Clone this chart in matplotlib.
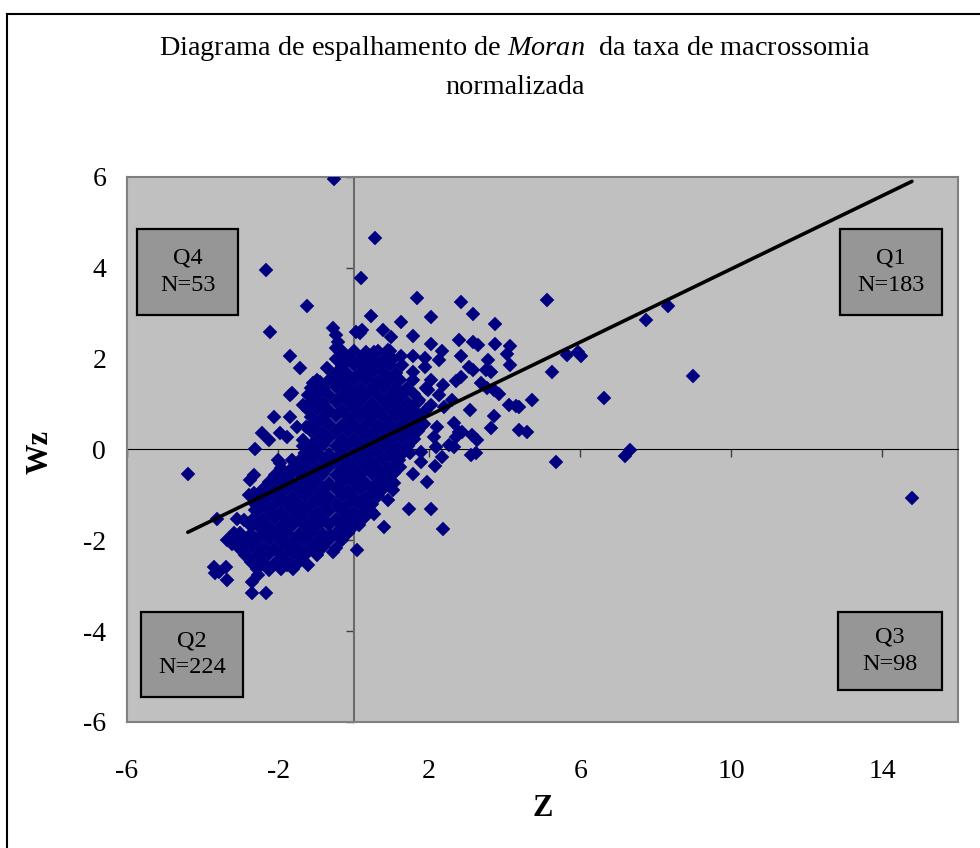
import matplotlib.pyplot as plt
from matplotlib.patches import Rectangle
from matplotlib.lines import Line2D

plt.rcParams['font.family'] = ['Liberation Serif', 'DejaVu Serif']
plt.rcParams['mathtext.fontset'] = 'custom'
plt.rcParams['mathtext.rm'] = 'Liberation Serif'
plt.rcParams['mathtext.it'] = 'Liberation Serif:italic'
plt.rcParams['axes.unicode_minus'] = False

# scattered points (z, Wz)
z_sparse = [
    -0.53, 0.57, -2.32, 0.20, -1.23, -2.22, 1.67, 2.83, 5.13, 0.47,
    2.04, 3.16, 1.26, 3.73, 0.22, 0.79, 0.18, 1.00, 1.57, 2.05,
    2.79, 3.16, 3.28, 3.74, 4.15, 4.05, 2.35, 2.84, 1.26, 1.58,
    1.90, 2.26, 1.27, 3.06, 3.17, 3.57, 4.15, 3.64, 3.50, 1.57,
    1.58, 1.89, 2.05, 2.36, 2.70, 2.83, 3.38, 3.53, 3.71, 3.84,
    4.72, 4.12, 4.29, 3.07, 3.71, 2.60, 2.26, 1.61, 1.74, 1.91,
    1.96, 1.21, 1.61, 2.04, 2.39, 2.66, 2.79, 3.14, 3.27, 2.22,
    2.13, 3.64, 4.37, 4.59, 2.88, 2.70, 2.53, 2.35, 3.10, 3.23,
    2.66, 2.18, 1.78, 1.78, 2.16, 1.57, 1.95, 0.57, 1.03, 1.08,
    0.91, 1.47, 2.04, 0.55, 0.35, 0.80, 2.37, 0.09, 5.26, 5.64,
    5.95, 6.03, 7.74, 8.32, 8.99, 6.62, 5.37, 7.19, 7.32, 14.78,
    -4.39, -2.89, 1.25, 1.21, 1.08, 1.16, 0.90, 0.20, 4.37, 0.55,
    0.90, -0.54, -0.46, -0.41, -0.46, -0.37, 0.07, -1.68, -1.42, -0.70,
    -0.19, -0.10, -1.64, -1.68, -1.07, -0.89, -0.41, -0.28, -1.33, -2.12,
    -1.68, -1.51, -2.43, -2.25, -2.60, -1.95, -1.77, -1.25, -1.07, -1.33,
    -1.99, -1.95, -2.65, -2.74, -1.95, -1.68, -1.42, -1.29, -2.65, -2.78,
    -2.39, -3.61, -3.09, -2.61, -3.35, -3.22, -2.96, -2.65, -3.09, -3.70,
    -3.57, -3.39, -3.35, -3.66, -2.69, -2.52, -2.69, -2.32, -1.77, -1.20,
    -0.54, -0.98, -0.81, -0.10, -0.46, -0.63, -2.17, -3.18,
]
wz_sparse = [
    5.95, 4.66, 3.96, 3.78, 3.17, 2.58, 3.34, 3.25, 3.30, 2.93,
    2.91, 2.98, 2.81, 2.76, 2.64, 2.63, 2.56, 2.47, 2.49, 2.32,
    2.41, 2.36, 2.31, 2.33, 2.28, 2.10, 2.16, 2.06, 2.06, 2.06,
    2.01, 1.97, 1.87, 1.81, 1.76, 1.98, 1.85, 1.70, 1.75, 1.70,
    1.53, 1.82, 1.53, 1.41, 1.51, 1.60, 1.47, 1.35, 1.31, 1.22,
    1.09, 0.97, 0.95, 0.87, 0.74, 1.10, 1.20, 1.22, 1.09, 1.36,
    1.31, 0.83, 0.83, 0.98, 0.94, 0.58, 0.39, 0.32, 0.22, 0.50,
    0.28, 0.47, 0.43, 0.39, 0.39, 0.28, 0.10, -0.16, -0.12, -0.08,
    0.06, 0.06, -0.05, -0.27, -0.36, -0.54, -0.71, -0.80, -0.89, -0.74,
    -1.11, -1.30, -1.30, -1.42, -1.26, -1.70, -1.74, -2.21, 1.71, 2.09,
    2.15, 2.06, 2.85, 3.15, 1.61, 1.13, -0.28, -0.14, -0.01, -1.06,
    -0.54, -1.55, -0.08, -0.23, -0.52, -0.38, -0.45, -0.67, 0.94, 2.15,
    2.19, 2.67, 2.52, 2.37, 2.23, 2.15, 2.59, 2.06, 1.79, 1.79,
    1.93, 1.97, 1.24, 1.20, 1.46, 1.49, 1.60, 1.71, 0.98, 0.72,
    0.72, 0.50, 0.36, 0.21, 0.00, 0.36, 0.28, 0.50, 0.58, 0.21,
    -0.23, -0.30, -0.56, -0.67, -0.49, -0.56, -0.45, -0.08, -0.96, -1.00,
    -1.15, -1.52, -1.52, -1.33, -1.99, -2.07, -2.21, -1.99, -2.03, -2.58,
    -2.69, -2.58, -2.87, -2.73, -2.91, -2.76, -3.17, -3.15, -2.54, -2.54,
    -2.25, -2.14, -2.07, -1.55, -1.85, -1.88, -1.77, -1.84,
]

# dense core of the cloud, read row by row
z_core = [
    -0.32, 0.00, 0.32, 0.64, 0.96,
    -0.48, -0.16, 0.16, 0.48, 0.80, 1.05,
    -0.32, 0.00, 0.32, 0.64, 0.96,
    -0.48, -0.16, 0.16, 0.48, 0.80, 1.12,
    -0.96, -0.64, -0.32, 0.00, 0.32, 0.64, 0.96, 1.22,
    -1.12, -0.80, -0.48, -0.16, 0.16, 0.48, 0.80, 1.12, 1.40,
    -1.20, -0.96, -0.64, -0.32, 0.00, 0.32, 0.64, 0.96, 1.28,
    -1.12, -0.80, -0.48, -0.16, 0.16, 0.48, 0.80, 1.12, 1.44, 1.70,
    -1.20, -0.96, -0.64, -0.32, 0.00, 0.32, 0.64, 0.96, 1.28, 1.60, 1.92,
    -1.12, -0.80, -0.48, -0.16, 0.16, 0.48, 0.80, 1.12, 1.44, 1.76,
    -0.96, -0.64, -0.32, 0.00, 0.32, 0.64, 0.96, 1.28, 1.60, 1.85,
    -1.12, -0.80, -0.48, -0.16, 0.16, 0.48, 0.80, 1.12, 1.44, 1.70,
    -0.96, -0.64, -0.32, 0.00, 0.32, 0.64, 0.96, 1.28, 1.60,
    -1.35, -1.12, -0.80, -0.48, -0.16, 0.16, 0.48, 0.80, 1.12, 1.44,
    -1.28, -0.96, -0.64, -0.32, 0.00, 0.32, 0.64, 0.96, 1.28, 1.50,
    -1.62, -1.44, -1.12, -0.80, -0.48, -0.16, 0.16, 0.48, 0.80, 1.12,
    -1.92, -1.60, -1.28, -0.96, -0.64, -0.32, 0.00, 0.32, 0.64, 0.96, 1.22,
    -2.08, -1.76, -1.44, -1.12, -0.80, -0.48, -0.16, 0.16, 0.48, 0.80, 1.05,
    -2.24, -1.92, -1.60, -1.28, -0.96, -0.64, -0.32, 0.00, 0.32, 0.64, 0.92,
    -2.40, -2.08, -1.76, -1.44, -1.12, -0.80, -0.48, -0.16, 0.16, 0.48, 0.78,
    -2.56, -2.24, -1.92, -1.60, -1.28, -0.96, -0.64, -0.32, 0.00, 0.32, 0.64,
    -2.62, -2.40, -2.08, -1.76, -1.44, -1.12, -0.80, -0.48, -0.16, 0.16, 0.48,
    -2.56, -2.24, -1.92, -1.60, -1.28, -0.96, -0.64, -0.32, 0.00, 0.32, 0.45,
    -2.66, -2.40, -2.08, -1.76, -1.44, -1.12, -0.80, -0.48, -0.16, 0.16, 0.28,
    -2.72, -2.56, -2.24, -1.92, -1.60, -1.28, -0.96, -0.64, -0.32, 0.00, 0.14,
    -3.00, -2.72, -2.40, -2.08, -1.76, -1.44, -1.12, -0.80, -0.48, -0.16,
    -3.20, -2.88, -2.56, -2.24, -1.92, -1.60, -1.28, -0.96, -0.64, -0.32,
    -3.04, -2.72, -2.40, -2.08, -1.76, -1.44, -1.12, -0.80, -0.48,
    -2.88, -2.56, -2.24, -1.92, -1.60, -1.28, -0.96,
    -2.72, -2.40, -2.08, -1.76, -1.44,
    -2.56, -2.24, -1.92, -1.60,
]
wz_core = [
    2.16, 2.17, 2.15, 2.16, 2.16,
    2.00, 2.01, 1.99, 2.00, 2.00, 2.00,
    1.84, 1.85, 1.83, 1.84, 1.85,
    1.68, 1.67, 1.69, 1.68, 1.68, 1.69,
    1.52, 1.53, 1.51, 1.52, 1.53, 1.51, 1.52, 1.53,
    1.36, 1.35, 1.37, 1.36, 1.35, 1.36, 1.37, 1.35, 1.36,
    1.20, 1.21, 1.19, 1.20, 1.21, 1.19, 1.20, 1.21, 1.19,
    1.04, 1.03, 1.05, 1.04, 1.05, 1.03, 1.04, 1.05, 1.03, 1.04,
    0.88, 0.89, 0.87, 0.88, 0.89, 0.87, 0.88, 0.89, 0.87, 0.88, 0.87,
    0.72, 0.71, 0.73, 0.72, 0.73, 0.71, 0.72, 0.73, 0.71, 0.72,
    0.56, 0.57, 0.55, 0.56, 0.57, 0.55, 0.56, 0.57, 0.55, 0.56,
    0.40, 0.39, 0.41, 0.40, 0.41, 0.39, 0.40, 0.41, 0.39, 0.40,
    0.24, 0.25, 0.23, 0.24, 0.25, 0.23, 0.24, 0.25, 0.23,
    0.08, 0.07, 0.09, 0.08, 0.09, 0.07, 0.08, 0.09, 0.07, 0.08,
    -0.08, -0.07, -0.09, -0.08, -0.07, -0.09, -0.08, -0.07, -0.09, -0.08,
    -0.24, -0.25, -0.23, -0.24, -0.23, -0.25, -0.24, -0.25, -0.23, -0.24,
    -0.40, -0.39, -0.41, -0.40, -0.39, -0.41, -0.40, -0.39, -0.41, -0.40, -0.39,
    -0.56, -0.57, -0.55, -0.56, -0.55, -0.57, -0.56, -0.57, -0.55, -0.56, -0.55,
    -0.72, -0.71, -0.73, -0.72, -0.71, -0.73, -0.72, -0.71, -0.73, -0.72, -0.71,
    -0.88, -0.89, -0.87, -0.88, -0.87, -0.89, -0.88, -0.89, -0.87, -0.88, -0.87,
    -1.04, -1.03, -1.05, -1.04, -1.03, -1.05, -1.04, -1.03, -1.05, -1.04, -1.03,
    -1.20, -1.21, -1.19, -1.20, -1.19, -1.21, -1.20, -1.21, -1.19, -1.20, -1.19,
    -1.36, -1.35, -1.37, -1.36, -1.35, -1.37, -1.36, -1.35, -1.37, -1.36, -1.35,
    -1.52, -1.53, -1.51, -1.52, -1.51, -1.53, -1.52, -1.53, -1.51, -1.52, -1.51,
    -1.68, -1.67, -1.69, -1.68, -1.67, -1.69, -1.68, -1.67, -1.69, -1.68, -1.67,
    -1.84, -1.85, -1.83, -1.84, -1.83, -1.85, -1.84, -1.85, -1.83, -1.84,
    -2.00, -2.01, -1.99, -2.00, -1.99, -2.01, -2.00, -2.01, -1.99, -2.00,
    -2.16, -2.15, -2.17, -2.16, -2.15, -2.17, -2.16, -2.15, -2.17,
    -2.32, -2.33, -2.31, -2.32, -2.31, -2.33, -2.32,
    -2.48, -2.47, -2.49, -2.48, -2.47,
    -2.64, -2.65, -2.63, -2.64,
]

# Moran regression line (slope = Moran's I)
moran_slope = 0.403
moran_intercept = -0.053

x_ticks = [-6, -2, 2, 6, 10, 14]
y_ticks = [-6, -4, -2, 0, 2, 4, 6]

quadrants = ['Q4\nN=53', 'Q1\nN=183', 'Q2\nN=224', 'Q3\nN=98']

fig = plt.figure(figsize=(9.8, 8.48), dpi=100)
pos = [127 / 980, 1 - 722 / 848, (958 - 127) / 980, (722 - 177) / 848]

# data axes: spines sit on the zero lines, carrying the tick marks
ax = fig.add_axes(pos)
ax.set_facecolor('#c0c0c0')
ax.set_xlim(-6, 16)
ax.set_ylim(-6, 6)
ax.spines['bottom'].set_position(('data', 0))
ax.spines['left'].set_position(('data', 0))
ax.spines['bottom'].set_color('black')
ax.spines['left'].set_color('#6a6a6a')
ax.spines['left'].set_linewidth(1.5)
for s in ('top', 'right'):
    ax.spines[s].set_color('#808080')
    ax.spines[s].set_linewidth(1.5)
ax.set_xticks(x_ticks)
ax.set_yticks(y_ticks)
ax.tick_params(labelbottom=False, labelleft=False, direction='out', length=6, width=1, color='#404040')

ax.plot(z_core, wz_core, 'D', ms=6.8, color='#000080', mew=0.3, ls='none', zorder=3)
ax.plot(z_sparse, wz_sparse, 'D', ms=7.0, color='#000080', mew=0.3, ls='none', zorder=3)

zmin = min(z_sparse + z_core)
zmax = max(z_sparse + z_core)
ax.plot([zmin, zmax], [moran_intercept + moran_slope * zmin, moran_intercept + moran_slope * zmax],
        color='black', lw=2.6, zorder=4, solid_capstyle='round')

# quadrant boxes
box_pos = [(0.012, 0.747, 0.122, 0.158), (0.858, 0.747, 0.123, 0.158),
           (0.017, 0.046, 0.122, 0.156), (0.856, 0.059, 0.125, 0.143)]
for (bx, by, bw, bh), txt in zip(box_pos, quadrants):
    ax.add_patch(Rectangle((bx, by), bw, bh, transform=ax.transAxes, facecolor='#969696',
                           edgecolor='black', lw=1.6, zorder=5))
    ax.text(bx + bw / 2, by + bh / 2, txt, transform=ax.transAxes, ha='center', va='center',
            fontsize=17.5, linespacing=1.38, zorder=6)

# label axes: tick labels at the outer edges, gray frame
lab = fig.add_axes(pos)
lab.patch.set_visible(False)
lab.set_xlim(-6, 16)
lab.set_ylim(-6, 6)
for s in ('top', 'right'):
    lab.spines[s].set_visible(False)
for s in ('left', 'bottom'):
    lab.spines[s].set_color('#808080')
    lab.spines[s].set_linewidth(1.5)
lab.set_xticks(x_ticks)
lab.set_xticklabels([str(t) for t in x_ticks])
lab.set_yticks(y_ticks)
lab.set_yticklabels([str(t) for t in y_ticks])
lab.tick_params(axis='x', length=0, pad=27, labelsize=20)
lab.tick_params(axis='y', length=0, pad=15, labelsize=20)

fig.text(515 / 980, 1 - 67 / 848,
         'Diagrama de espalhamento de $\\mathit{Moran}$  da taxa de macrossomia\nnormalizada',
         ha='center', va='center', fontsize=20.3, linespacing=1.6)
fig.text(543 / 980, 1 - 808 / 848, 'Z', ha='center', va='center', fontsize=22, fontweight='bold')
fig.text(40 / 980, 1 - 452 / 848, 'Wz', ha='center', va='center', fontsize=22, fontweight='bold',
         rotation=90)

# chart frame (runs off the right and bottom of the picture)
fig.add_artist(Line2D([7 / 980, 7 / 980], [-0.1, 1 - 14 / 848], color='black', lw=1.5))
fig.add_artist(Line2D([7 / 980, 1.1], [1 - 14 / 848, 1 - 14 / 848], color='black', lw=1.5))

fig.savefig('out.png', dpi=100)
